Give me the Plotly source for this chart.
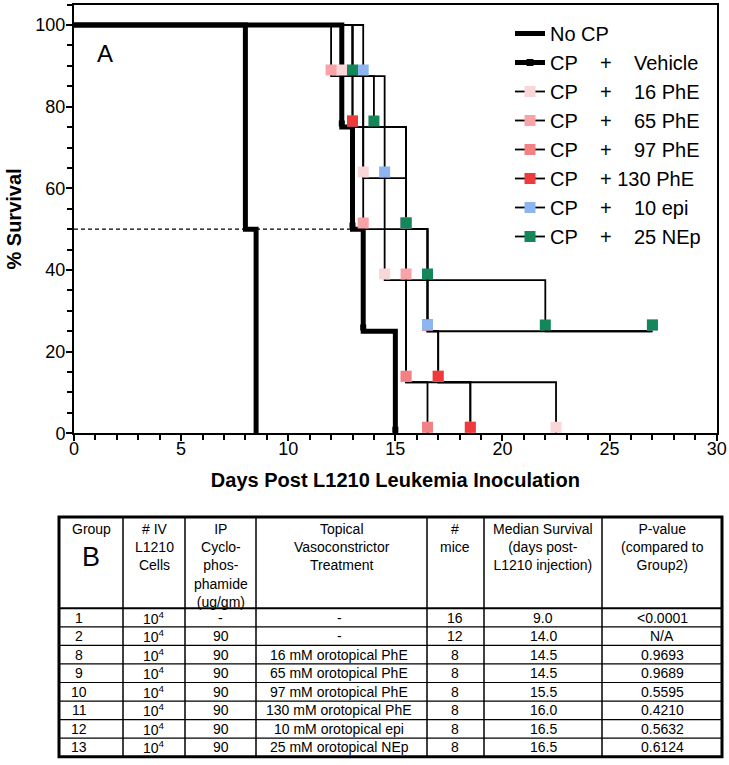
import plotly.graph_objects as go

W, H = 729, 765
FONT = "Liberation Sans, Arial, sans-serif"

# ---------------- survival data (days, % survival) ----------------
nocp_days = [0, 8, 8.5]
nocp_surv = [100, 50, 0]
vehicle_days = [0, 12.5, 13, 13.5, 15]
vehicle_surv = [100, 75, 50, 25, 0]
phe16_days = [0, 12.5, 13.5, 14.5, 15.5, 22.5]
phe16_surv = [100, 87.5, 62.5, 37.5, 12.5, 0]
phe65_days = [0, 12, 13.5, 15.5, 16.5, 17, 18.5]
phe65_surv = [100, 87.5, 50, 37.5, 25, 12.5, 0]
phe97_days = [0, 13, 15.5, 16.5]
phe97_surv = [100, 75, 12.5, 0]
phe130_days = [0, 13, 15.5, 16.5, 17, 18.5]
phe130_surv = [100, 75, 50, 25, 12.5, 0]
epi10_days = [0, 13.5, 14.5, 15.5, 16.5, 27]
epi10_surv = [100, 87.5, 62.5, 50, 25, 25]
nep25_days = [0, 13, 14, 15.5, 16.5, 22, 27]
nep25_surv = [100, 87.5, 75, 50, 37.5, 25, 25]
median_days = [0, 13]
median_surv = [50, 50]

NB = "\u00a0"
legend_names = [
    "No CP",
    "CP" + NB * 4 + "+" + NB * 4 + "Vehicle",
    "CP" + NB * 4 + "+" + NB * 4 + "16 PhE",
    "CP" + NB * 4 + "+" + NB * 4 + "65 PhE",
    "CP" + NB * 4 + "+" + NB * 4 + "97 PhE",
    "CP" + NB * 4 + "+" + NB * 1 + "130 PhE",
    "CP" + NB * 4 + "+" + NB * 4 + "10 epi",
    "CP" + NB * 4 + "+" + NB * 4 + "25 NEp",
]
series_colors = ["black", "black", "#F9D6D8", "#F8A3A8", "#F38184", "#EE3A3D", "#8DB6F0", "#13865A"]

# ---------------- table data ----------------
table_headers = [
    "Group",
    "# IV<br>L1210<br>Cells",
    "IP<br>Cyclo-<br>phos-<br>phamide<br>(ug/gm)",
    "Topical<br>Vasoconstrictor<br>Treatment",
    "#<br>mice",
    "Median Survival<br>(days post-<br>L1210 injection)",
    "P-value<br>(compared to<br>Group2)",
]
group_ids = ["1", "2", "8", "9", "10", "11", "12", "13"]
iv_cells = ["10<sup>4</sup>"] * 8
cp_dose = ["-", "90", "90", "90", "90", "90", "90", "90"]
treatments = ["-", "-", "16 mM orotopical PhE", "65 mM orotopical PhE", "97 mM orotopical PhE",
              "130 mM orotopical PhE", "10 mM orotopical epi", "25 mM orotopical NEp"]
n_mice = ["16", "12", "8", "8", "8", "8", "8", "8"]
median_survival = ["9.0", "14.0", "14.5", "14.5", "15.5", "16.0", "16.5", "16.5"]
p_values = ["<0.0001", "N/A", "0.9693", "0.9689", "0.5595", "0.4210", "0.5632", "0.6124"]


def fx(px):
    return px / W


def fy(py):
    return 1 - py / H


fig = go.Figure()

# legend-only entries
for i, name in enumerate(legend_names):
    if i == 0:
        fig.add_trace(go.Scatter(x=[None], y=[None], mode="lines", name=name,
                                 line=dict(color="black", width=5)))
    elif i == 1:
        fig.add_trace(go.Scatter(x=[None], y=[None], mode="lines+markers", name=name,
                                 line=dict(color="black", width=5),
                                 marker=dict(symbol="square", size=7, color="black")))
    else:
        fig.add_trace(go.Scatter(x=[None], y=[None], mode="lines+markers", name=name,
                                 line=dict(color="black", width=1.8),
                                 marker=dict(symbol="square", size=11, color=series_colors[i])))

curves = [
    (nocp_days, nocp_surv, 5),
    (vehicle_days, vehicle_surv, 5),
    (phe16_days, phe16_surv, 1.8),
    (phe65_days, phe65_surv, 1.8),
    (phe97_days, phe97_surv, 1.8),
    (phe130_days, phe130_surv, 1.8),
    (epi10_days, epi10_surv, 1.8),
    (nep25_days, nep25_surv, 1.8),
]

# median reference line
fig.add_trace(go.Scatter(x=median_days, y=median_surv, mode="lines", showlegend=False,
                         line=dict(color="black", width=1.2, dash="4px,3px"), hoverinfo="skip"))

# step lines
for days, surv, w in curves[2:] + curves[:2]:
    fig.add_trace(go.Scatter(x=days, y=surv, mode="lines", showlegend=False, hoverinfo="skip",
                             line=dict(color="black", width=w, shape="hv")))

# markers sitting on top of each step
MARK_OFF = 1.5
for i, (days, surv, w) in enumerate(curves):
    if i == 0:
        continue
    if i == 1:
        fig.add_trace(go.Scatter(x=days[1:], y=[s + 0.9 for s in surv[1:]], mode="markers",
                                 showlegend=False, hoverinfo="skip",
                                 marker=dict(symbol="square", size=6, color="black")))
    else:
        fig.add_trace(go.Scatter(x=days[1:], y=[s + MARK_OFF for s in surv[1:]], mode="markers",
                                 showlegend=False, hoverinfo="skip",
                                 marker=dict(symbol="square", size=11, color=series_colors[i])))

axis_common = dict(showline=True, linewidth=2, linecolor="black", mirror=True,
                   ticks="outside", ticklen=6, tickwidth=2, tickcolor="black",
                   showgrid=False, zeroline=False,
                   tickfont=dict(size=18, family=FONT, color="black"))

fig.update_xaxes(range=[0, 30], dtick=5, tick0=0, domain=[fx(74), fx(716.7)],
                 ticklabelstandoff=-8,
                 minor=dict(dtick=1, ticks="outside", ticklen=5, tickwidth=2, tickcolor="black"),
                 title=dict(text="Days Post L1210 Leukemia Inoculation",
                            font=dict(size=20, family=FONT, weight="bold")),
                 **axis_common)
fig.update_yaxes(range=[0, 105], tickvals=[0, 20, 40, 60, 80, 100], domain=[fy(433.3), fy(4.6)],
                 ticklabelstandoff=-3,
                 minor=dict(dtick=5, ticks="outside", ticklen=5, tickwidth=2, tickcolor="black"),
                 title=dict(text="% Survival", font=dict(size=20, family=FONT, weight="bold"),
                            standoff=8),
                 **axis_common)

annotations = [dict(text="A", x=fx(105), y=fy(54), xref="paper", yref="paper",
                    xanchor="center", yanchor="middle",
                    showarrow=False, font=dict(size=24, family=FONT, color="black"))]

# ---------------- table (drawn with shapes + text) ----------------
col_edges = [59, 123, 185, 256, 427, 484, 602, 722]
tab_top, head_bot, row_h = 517, 608.3, 18.55
n_rows = len(group_ids)
tab_bot = head_bot + row_h * n_rows

shapes = []
shapes.append(dict(type="rect", xref="paper", yref="paper", x0=fx(col_edges[0]), x1=fx(col_edges[-1]),
                   y0=fy(tab_bot), y1=fy(tab_top), line=dict(color="black", width=3)))
shapes.append(dict(type="line", xref="paper", yref="paper", x0=fx(col_edges[0]), x1=fx(col_edges[-1]),
                   y0=fy(head_bot), y1=fy(head_bot), line=dict(color="black", width=2)))
for k in range(1, n_rows):
    yy = head_bot + row_h * k
    shapes.append(dict(type="line", xref="paper", yref="paper", x0=fx(col_edges[0]), x1=fx(col_edges[-1]),
                       y0=fy(yy), y1=fy(yy), line=dict(color="black", width=1.2)))
for xe in col_edges[1:-1]:
    shapes.append(dict(type="line", xref="paper", yref="paper", x0=fx(xe), x1=fx(xe),
                       y0=fy(tab_top), y1=fy(tab_bot), line=dict(color="black", width=1.5)))

centers = [(col_edges[i] + col_edges[i + 1]) / 2 for i in range(len(col_edges) - 1)]
for i, htxt in enumerate(table_headers):
    annotations.append(dict(text=htxt, x=fx(centers[i]), y=fy(519), xref="paper", yref="paper",
                            xanchor="center", yanchor="top", align="center", showarrow=False,
                            font=dict(size=14, family=FONT, color="black")))
annotations.append(dict(text="B", x=fx(centers[0]), y=fy(557), xref="paper", yref="paper",
                        xanchor="center", yanchor="middle", showarrow=False,
                        font=dict(size=27, family=FONT, color="black")))

body_cols = [group_ids, iv_cells, cp_dose, treatments, n_mice, median_survival, p_values]
body_x = [79, centers[1], centers[2], 339, centers[4], centers[5], centers[6]]
for c, col in enumerate(body_cols):
    for r, val in enumerate(col):
        yc = head_bot + row_h * (r + 0.5)
        annotations.append(dict(text=val, x=fx(body_x[c]), y=fy(yc), xref="paper", yref="paper",
                                xanchor="center", yanchor="middle", showarrow=False,
                                font=dict(size=14, family=FONT, color="black")))

fig.update_layout(
    width=W, height=H,
    margin=dict(l=0, r=0, t=0, b=0, autoexpand=False),
    paper_bgcolor="white", plot_bgcolor="white",
    font=dict(family=FONT, color="black"),
    showlegend=True,
    legend=dict(x=fx(510), y=fy(14), xanchor="left", yanchor="top",
                bgcolor="rgba(0,0,0,0)", font=dict(size=20, family=FONT, color="black"),
                itemwidth=30, traceorder="normal"),
    annotations=annotations,
    shapes=shapes,
)

fig.write_html("out.html", config={"displayModeBar": False},
               post_script="document.body.style.margin='0';")
